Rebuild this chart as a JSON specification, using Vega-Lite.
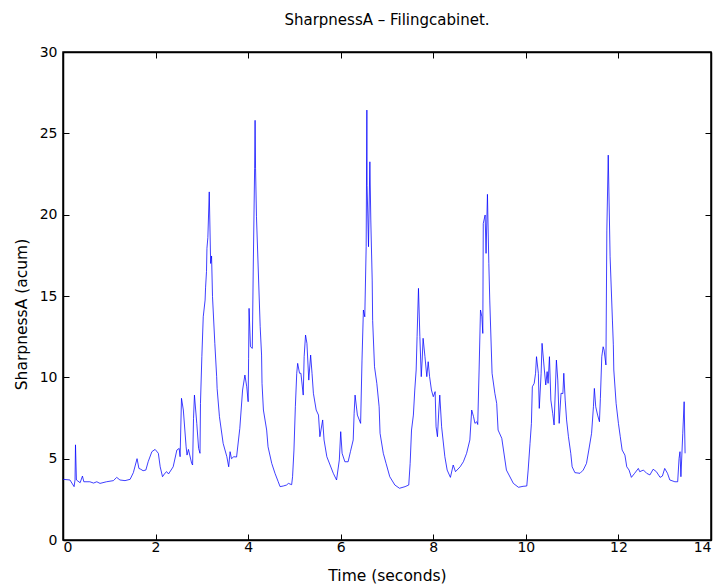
{
  "$schema": "https://vega.github.io/schema/vega-lite/v6.json",
  "width": 648,
  "height": 488,
  "autosize": {"type": "none"},
  "padding": {"left": 63, "top": 52, "right": 14, "bottom": 45},
  "background": "white",
  "title": {"text": "SharpnessA – Filingcabinet.", "font": "DejaVu Sans", "fontSize": 15, "fontWeight": "normal", "color": "black", "offset": 17, "anchor": "middle"},
  "config": {
    "view": {"stroke": "black", "strokeWidth": 1.5},
    "axis": {
      "grid": false,
      "domainColor": "black",
      "domainWidth": 1.5,
      "tickColor": "black",
      "tickWidth": 1,
      "tickSize": -6,
      "labelFont": "DejaVu Sans",
      "labelFontSize": 14,
      "labelColor": "black",
      "titleFont": "DejaVu Sans",
      "titleFontSize": 15.5,
      "titleFontWeight": "normal",
      "titleColor": "black"
    }
  },
  "data": {"values": [
    {"t":0.00,"v":3.73},{"t":0.15,"v":3.69},{"t":0.24,"v":3.28},{"t":0.26,"v":3.7},{"t":0.27,"v":5.85},{"t":0.29,"v":3.69},
    {"t":0.37,"v":3.52},{"t":0.42,"v":3.93},{"t":0.45,"v":3.58},{"t":0.58,"v":3.58},{"t":0.66,"v":3.5},{"t":0.73,"v":3.58},
    {"t":0.80,"v":3.48},{"t":0.94,"v":3.58},{"t":1.09,"v":3.65},{"t":1.16,"v":3.85},{"t":1.23,"v":3.69},{"t":1.34,"v":3.65},
    {"t":1.45,"v":3.73},{"t":1.52,"v":4.14},{"t":1.60,"v":5.0},{"t":1.64,"v":4.4},{"t":1.68,"v":4.35},{"t":1.73,"v":4.26},
    {"t":1.79,"v":4.3},{"t":1.84,"v":4.81},{"t":1.92,"v":5.43},{"t":1.99,"v":5.57},{"t":2.06,"v":5.33},{"t":2.10,"v":4.5},
    {"t":2.15,"v":3.89},{"t":2.20,"v":4.1},{"t":2.24,"v":4.2},{"t":2.28,"v":4.06},{"t":2.38,"v":4.5},{"t":2.46,"v":5.53},
    {"t":2.51,"v":5.63},{"t":2.53,"v":5.12},{"t":2.56,"v":8.71},{"t":2.60,"v":7.99},{"t":2.66,"v":5.73},{"t":2.68,"v":5.22},
    {"t":2.71,"v":5.57},{"t":2.78,"v":4.71},{"t":2.80,"v":4.61},{"t":2.82,"v":7.48},{"t":2.84,"v":8.91},{"t":2.89,"v":7.17},
    {"t":2.93,"v":5.63},{"t":2.96,"v":5.33},{"t":2.97,"v":8.4},{"t":3.00,"v":11.27},{"t":3.03,"v":13.72},{"t":3.07,"v":14.75},
    {"t":3.08,"v":15.5},{"t":3.10,"v":16.5},{"t":3.11,"v":17.93},{"t":3.13,"v":18.6},{"t":3.16,"v":21.4},{"t":3.19,"v":17.0},
    {"t":3.21,"v":17.46},{"t":3.23,"v":14.96},{"t":3.28,"v":12.09},{"t":3.32,"v":10.04},{"t":3.33,"v":9.3},{"t":3.38,"v":7.58},
    {"t":3.46,"v":5.94},{"t":3.54,"v":5.12},{"t":3.58,"v":4.5},{"t":3.61,"v":5.43},{"t":3.64,"v":5.0},{"t":3.69,"v":5.12},
    {"t":3.75,"v":5.1},{"t":3.82,"v":6.86},{"t":3.88,"v":9.22},{"t":3.93,"v":10.14},{"t":3.97,"v":9.42},{"t":4.00,"v":8.5},
    {"t":4.01,"v":11.17},{"t":4.02,"v":14.24},{"t":4.05,"v":11.88},{"t":4.09,"v":11.78},{"t":4.11,"v":16.6},{"t":4.14,"v":22.85},
    {"t":4.15,"v":25.8},{"t":4.16,"v":22.85},{"t":4.18,"v":19.87},{"t":4.26,"v":13.11},{"t":4.29,"v":11.37},{"t":4.30,"v":9.63},
    {"t":4.33,"v":7.99},{"t":4.40,"v":6.76},{"t":4.43,"v":5.73},{"t":4.51,"v":4.71},{"t":4.58,"v":4.1},{"t":4.65,"v":3.58},
    {"t":4.69,"v":3.28},{"t":4.76,"v":3.32},{"t":4.83,"v":3.38},{"t":4.87,"v":3.48},{"t":4.94,"v":3.4},{"t":4.96,"v":3.89},
    {"t":4.99,"v":5.53},{"t":5.02,"v":8.19},{"t":5.05,"v":10.25},{"t":5.07,"v":10.86},{"t":5.11,"v":10.25},{"t":5.14,"v":10.25},
    {"t":5.19,"v":8.91},{"t":5.21,"v":11.27},{"t":5.24,"v":12.6},{"t":5.27,"v":12.09},{"t":5.31,"v":9.83},{"t":5.35,"v":11.37},
    {"t":5.38,"v":10.25},{"t":5.41,"v":9.02},{"t":5.47,"v":7.99},{"t":5.52,"v":7.68},{"t":5.55,"v":6.35},{"t":5.61,"v":7.38},
    {"t":5.64,"v":6.15},{"t":5.70,"v":5.12},{"t":5.77,"v":4.61},{"t":5.84,"v":4.1},{"t":5.91,"v":3.69},{"t":5.97,"v":4.92},
    {"t":6.00,"v":6.66},{"t":6.03,"v":5.33},{"t":6.09,"v":4.81},{"t":6.16,"v":4.81},{"t":6.21,"v":5.43},{"t":6.27,"v":6.15},
    {"t":6.29,"v":7.79},{"t":6.31,"v":8.91},{"t":6.36,"v":7.68},{"t":6.43,"v":7.17},{"t":6.46,"v":11.06},{"t":6.49,"v":14.14},
    {"t":6.52,"v":13.72},{"t":6.55,"v":18.03},{"t":6.565,"v":26.43},{"t":6.57,"v":21.8},{"t":6.60,"v":18.03},{"t":6.63,"v":23.25},
    {"t":6.65,"v":19.67},{"t":6.68,"v":15.98},{"t":6.69,"v":13.5},{"t":6.73,"v":10.65},{"t":6.78,"v":9.63},{"t":6.83,"v":8.19},
    {"t":6.85,"v":6.56},{"t":6.92,"v":5.33},{"t":6.98,"v":4.71},{"t":7.06,"v":3.89},{"t":7.17,"v":3.38},{"t":7.27,"v":3.18},
    {"t":7.39,"v":3.28},{"t":7.47,"v":3.38},{"t":7.50,"v":4.71},{"t":7.53,"v":6.76},{"t":7.57,"v":7.68},{"t":7.60,"v":9.22},
    {"t":7.63,"v":10.45},{"t":7.65,"v":12.5},{"t":7.68,"v":15.47},{"t":7.71,"v":12.5},{"t":7.74,"v":10.04},{"t":7.76,"v":11.06},
    {"t":7.78,"v":12.4},{"t":7.82,"v":11.27},{"t":7.86,"v":10.04},{"t":7.89,"v":10.96},{"t":7.92,"v":10.04},{"t":7.96,"v":9.22},
    {"t":8.00,"v":8.81},{"t":8.04,"v":9.12},{"t":8.06,"v":6.96},{"t":8.09,"v":6.35},{"t":8.12,"v":7.99},{"t":8.14,"v":8.91},
    {"t":8.18,"v":6.96},{"t":8.25,"v":5.12},{"t":8.30,"v":4.3},{"t":8.37,"v":3.85},{"t":8.43,"v":4.61},{"t":8.48,"v":4.2},
    {"t":8.58,"v":4.5},{"t":8.65,"v":4.81},{"t":8.72,"v":5.33},{"t":8.79,"v":6.15},{"t":8.83,"v":7.99},{"t":8.87,"v":7.58},
    {"t":8.90,"v":7.17},{"t":8.94,"v":7.27},{"t":8.96,"v":7.1},{"t":8.99,"v":10.45},{"t":9.02,"v":14.14},{"t":9.05,"v":13.72},
    {"t":9.07,"v":12.7},{"t":9.08,"v":19.46},{"t":9.12,"v":19.98},{"t":9.14,"v":17.62},{"t":9.17,"v":21.25},{"t":9.20,"v":17.0},
    {"t":9.22,"v":14.75},{"t":9.27,"v":10.25},{"t":9.33,"v":9.02},{"t":9.37,"v":8.4},{"t":9.40,"v":6.76},{"t":9.48,"v":6.25},
    {"t":9.58,"v":4.3},{"t":9.73,"v":3.48},{"t":9.84,"v":3.24},{"t":9.94,"v":3.3},{"t":10.02,"v":3.32},{"t":10.05,"v":4.3},
    {"t":10.09,"v":5.94},{"t":10.12,"v":7.17},{"t":10.14,"v":9.42},{"t":10.18,"v":9.63},{"t":10.21,"v":10.25},{"t":10.23,"v":11.27},
    {"t":10.27,"v":10.25},{"t":10.29,"v":8.09},{"t":10.33,"v":10.25},{"t":10.35,"v":12.09},{"t":10.40,"v":10.45},{"t":10.43,"v":9.53},
    {"t":10.46,"v":10.35},{"t":10.48,"v":9.63},{"t":10.51,"v":11.27},{"t":10.54,"v":8.6},{"t":10.58,"v":7.79},{"t":10.61,"v":7.07},
    {"t":10.66,"v":11.06},{"t":10.69,"v":9.83},{"t":10.72,"v":7.17},{"t":10.76,"v":9.02},{"t":10.80,"v":9.0},{"t":10.82,"v":10.25},
    {"t":10.85,"v":8.6},{"t":10.88,"v":7.38},{"t":10.92,"v":6.35},{"t":10.97,"v":5.33},{"t":11.00,"v":4.5},{"t":11.06,"v":4.14},
    {"t":11.17,"v":4.1},{"t":11.24,"v":4.3},{"t":11.31,"v":4.71},{"t":11.36,"v":5.53},{"t":11.42,"v":6.56},{"t":11.46,"v":8.19},
    {"t":11.48,"v":9.32},{"t":11.51,"v":8.19},{"t":11.55,"v":7.68},{"t":11.59,"v":7.27},{"t":11.61,"v":8.71},{"t":11.64,"v":11.27},
    {"t":11.67,"v":11.88},{"t":11.69,"v":11.68},{"t":11.73,"v":10.76},{"t":11.75,"v":19.05},{"t":11.78,"v":23.66},{"t":11.82,"v":17.41},
    {"t":11.87,"v":13.52},{"t":11.89,"v":12.0},{"t":11.90,"v":10.45},{"t":11.95,"v":8.4},{"t":12.00,"v":7.17},{"t":12.04,"v":6.35},
    {"t":12.08,"v":5.53},{"t":12.14,"v":5.22},{"t":12.18,"v":4.5},{"t":12.23,"v":4.3},{"t":12.28,"v":3.85},{"t":12.35,"v":4.1},
    {"t":12.43,"v":4.4},{"t":12.46,"v":4.2},{"t":12.54,"v":4.3},{"t":12.61,"v":4.1},{"t":12.68,"v":4.0},{"t":12.75,"v":4.35},
    {"t":12.82,"v":4.2},{"t":12.90,"v":3.85},{"t":12.95,"v":3.93},{"t":13.00,"v":4.4},{"t":13.06,"v":4.1},{"t":13.11,"v":3.69},
    {"t":13.22,"v":3.58},{"t":13.28,"v":3.58},{"t":13.31,"v":5.02},{"t":13.33,"v":5.43},{"t":13.35,"v":3.89},{"t":13.39,"v":6.56},
    {"t":13.42,"v":8.5},{"t":13.44,"v":5.33}
  ]},
  "layer": [
    {
      "mark": {"type": "line", "color": "#0000ff", "strokeWidth": 0.75, "clip": true},
      "encoding": {
        "x": {"field": "t", "type": "quantitative", "scale": {"domain": [0, 14], "nice": false, "zero": false},
              "axis": {"orient": "bottom", "values": [0, 2, 4, 6, 8, 10, 12, 14], "title": "Time (seconds)", "labelPadding": 6, "titlePadding": 14}},
        "y": {"field": "v", "type": "quantitative", "scale": {"domain": [0, 30], "nice": false},
              "axis": {"orient": "left", "values": [0, 5, 10, 15, 20, 25, 30], "title": "SharpnessA (acum)", "labelPadding": 12, "titlePadding": 10, "titleY": 262}}
      }
    },
    {
      "mark": {"type": "line", "opacity": 0},
      "encoding": {
        "x": {"field": "t", "type": "quantitative", "scale": {"domain": [0, 14], "nice": false, "zero": false},
              "axis": {"orient": "top", "values": [0, 2, 4, 6, 8, 10, 12, 14], "labels": false, "title": null}},
        "y": {"field": "v", "type": "quantitative", "scale": {"domain": [0, 30], "nice": false},
              "axis": {"orient": "right", "values": [0, 5, 10, 15, 20, 25, 30], "labels": false, "title": null}}
      }
    }
  ],
  "resolve": {"scale": {"x": "independent", "y": "independent"}}
}
